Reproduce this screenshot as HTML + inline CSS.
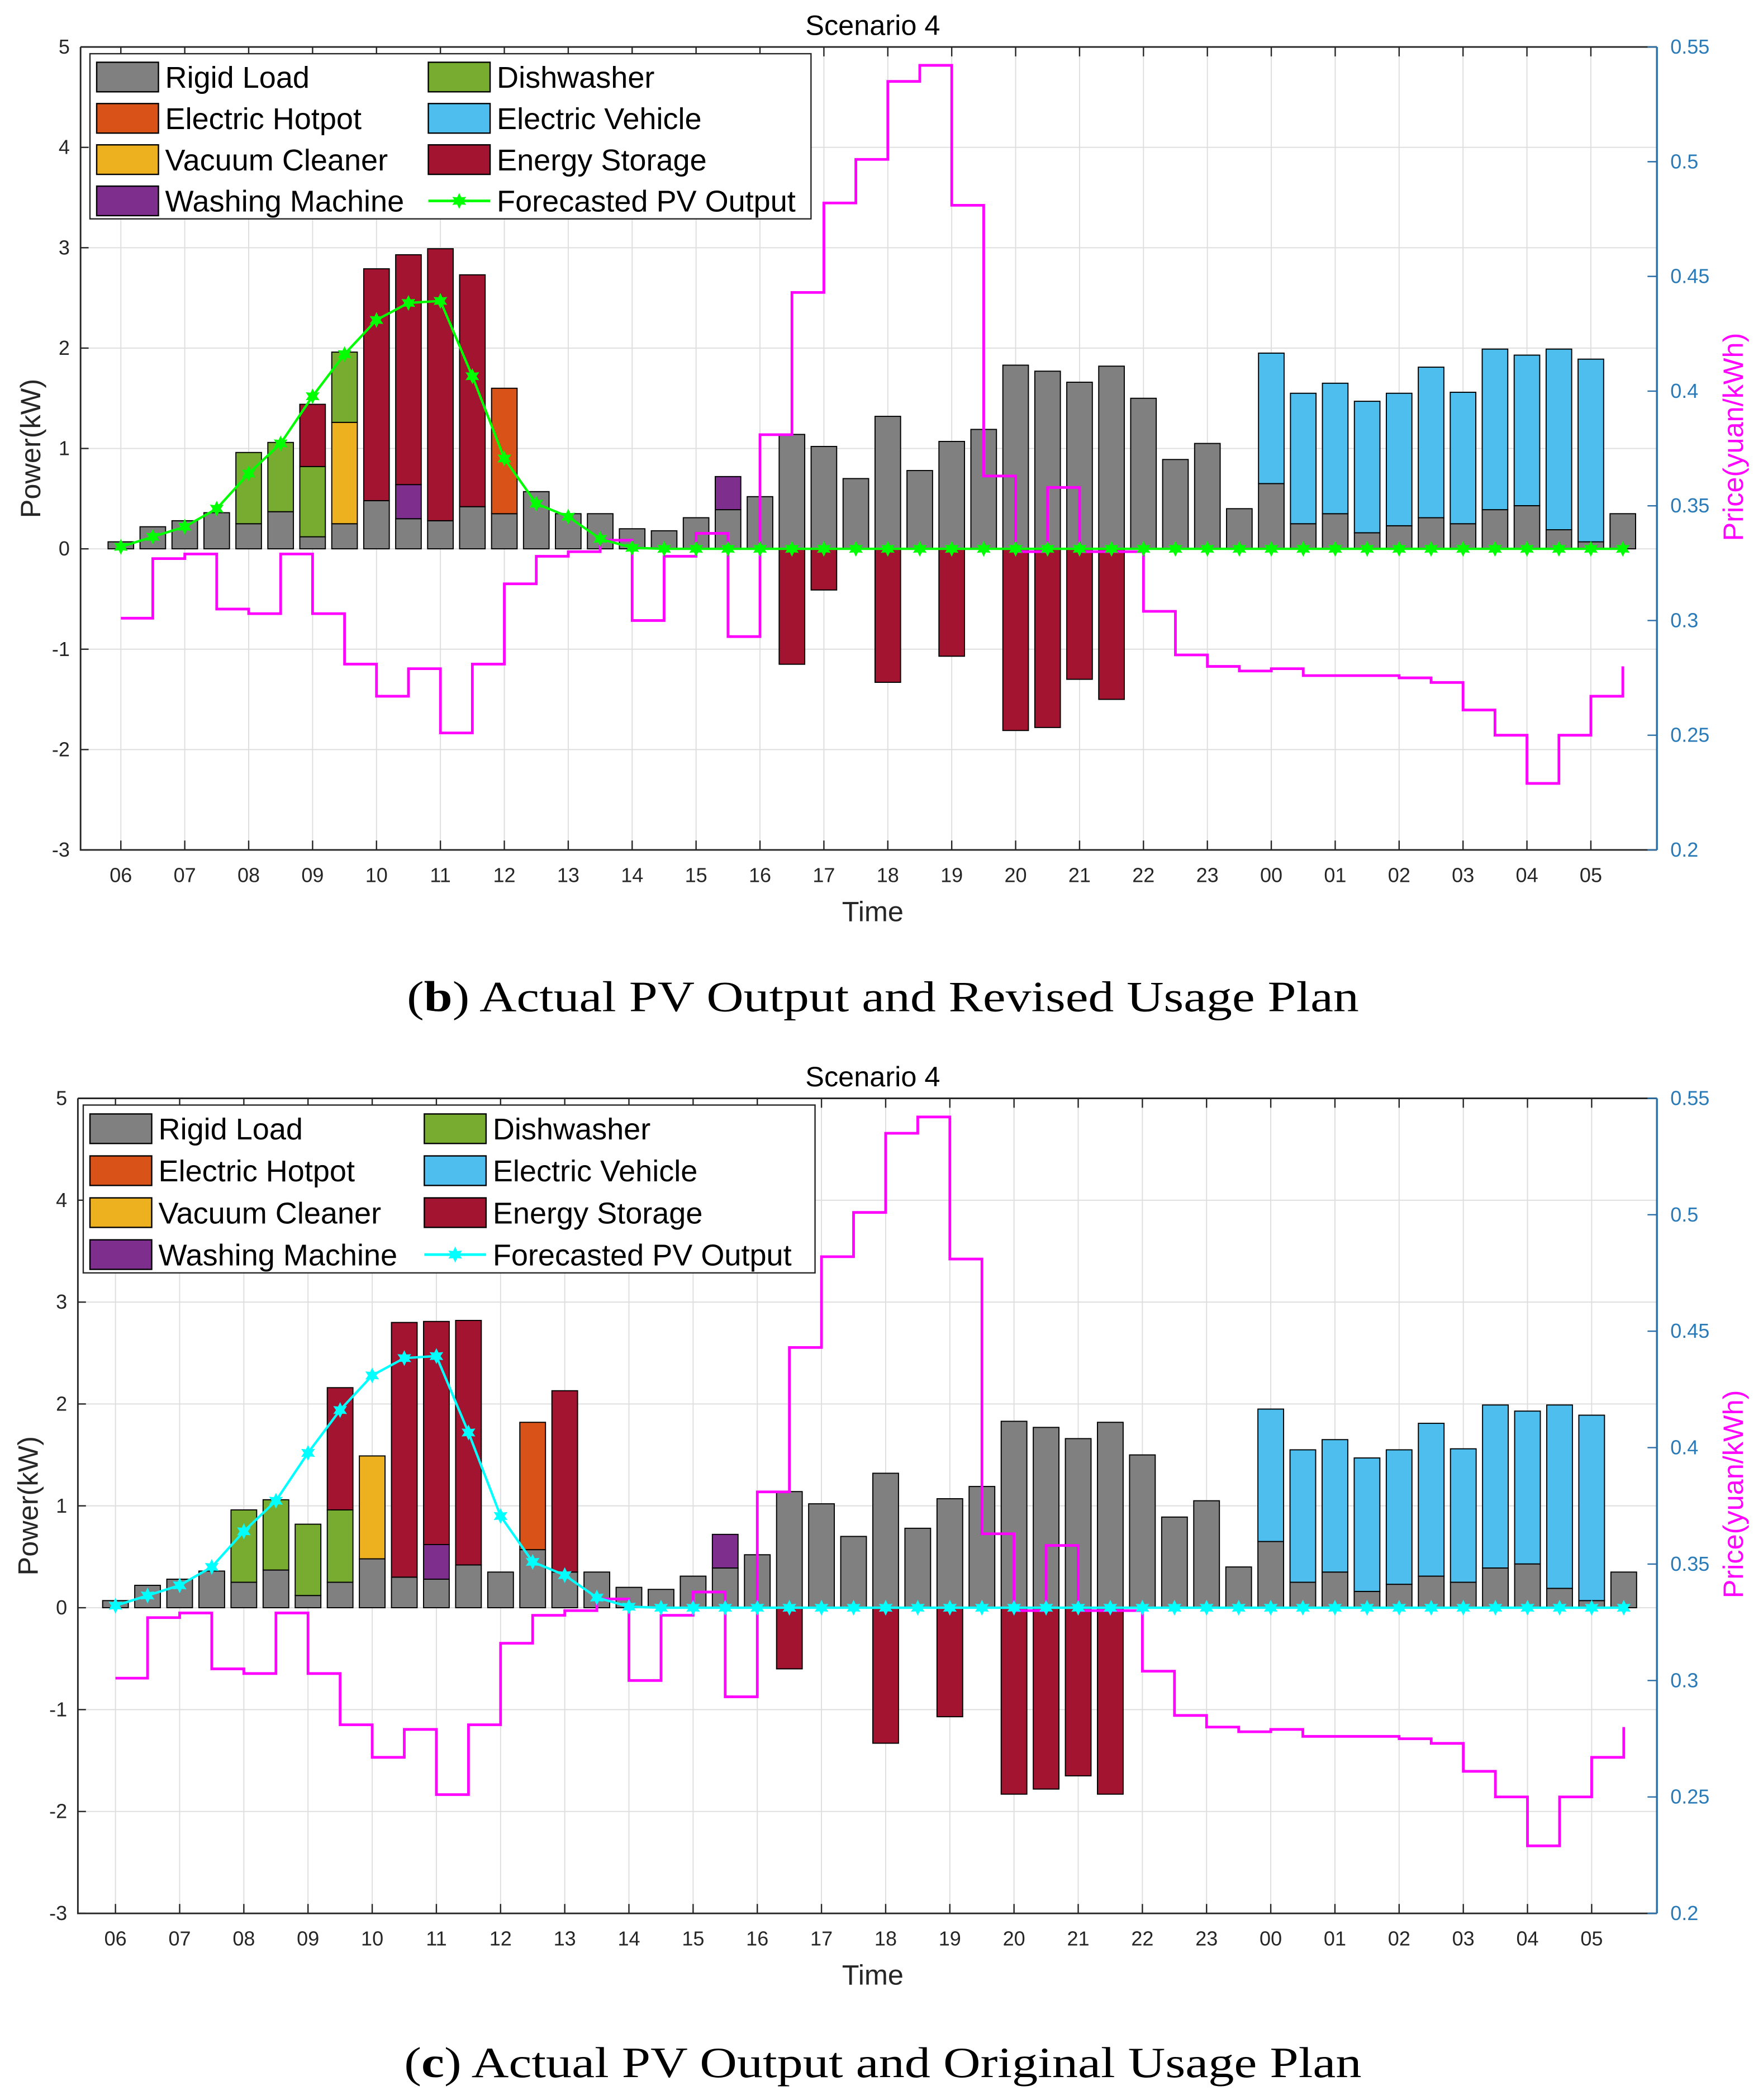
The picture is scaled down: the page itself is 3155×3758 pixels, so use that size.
<!DOCTYPE html>
<html><head><meta charset="utf-8"><style>
html,body{margin:0;padding:0;background:#fff;}
svg{display:block;}
text{font-family:"Liberation Sans",sans-serif;}
</style></head><body>
<svg id="fig" xmlns="http://www.w3.org/2000/svg" width="3155" height="3758" viewBox="0 0 1313 1564" preserveAspectRatio="none">
<rect x="0" y="0" width="1313" height="1564" fill="#fff"/>
<g id="chartB"></g>
<g id="chartC"></g>
<text x="303" y="753" font-size="32" textLength="709" lengthAdjust="spacingAndGlyphs" style="font-family:'Liberation Serif',serif">(<tspan font-weight="bold">b</tspan>) Actual PV Output and Revised Usage Plan</text>
<text x="301" y="1547" font-size="32" textLength="713" lengthAdjust="spacingAndGlyphs" style="font-family:'Liberation Serif',serif">(<tspan font-weight="bold">c</tspan>) Actual PV Output and Original Usage Plan</text>
</svg>
<script>
const hourLabels = ["06","07","08","09","10","11","12","13","14","15","16","17","18","19","20","21","22","23","00","01","02","03","04","05"];
const leftTicks = [-3,-2,-1,0,1,2,3,4,5];
const rightTicks = [0.2,0.25,0.3,0.35,0.4,0.45,0.5,0.55];
const rightTickLabels = ["0.2","0.25","0.3","0.35","0.4","0.45","0.5","0.55"];
const seriesNames = ["Rigid Load","Dishwasher","Electric Hotpot","Electric Vehicle","Vacuum Cleaner","Energy Storage","Washing Machine","Forecasted PV Output"];

// 48 half-hour slots starting 06:00
const rigidLoad = [0.07,0.22,0.28,0.36,0.25,0.37,0.12,0.25,0.48,0.3,0.28,0.42,0.35,0.57,0.35,0.35,0.2,0.18,0.31,0.39,0.52,1.14,1.02,0.7,1.32,0.78,1.07,1.19,1.83,1.77,1.66,1.82,1.5,0.89,1.05,0.4,0.65,0.25,0.35,0.16,0.23,0.31,0.25,0.39,0.43,0.19,0.07,0.35];
const evLoad = [0,0,0,0,0,0,0,0,0,0,0,0,0,0,0,0,0,0,0,0,0,0,0,0,0,0,0,0,0,0,0,0,0,0,0,0,1.3,1.3,1.3,1.31,1.32,1.5,1.31,1.6,1.5,1.8,1.82,0];
const price = [0.301,0.327,0.329,0.305,0.303,0.329,0.303,0.281,0.267,0.279,0.251,0.281,0.316,0.328,0.330,0.335,0.300,0.328,0.338,0.293,0.381,0.443,0.482,0.501,0.535,0.542,0.481,0.363,0.330,0.358,0.330,0.330,0.304,0.285,0.280,0.278,0.279,0.276,0.276,0.276,0.275,0.273,0.261,0.250,0.229,0.250,0.267,0.280];
const pvOutput = [0.02,0.12,0.22,0.4,0.75,1.05,1.52,1.94,2.28,2.45,2.47,1.72,0.9,0.45,0.32,0.1,0.01,0,0,0,0,0,0,0,0,0,0,0,0,0,0,0,0,0,0,0,0,0,0,0,0,0,0,0,0,0,0,0];

// Revised plan (b)
const dishB   = [0,0,0,0,0.71,0.69,0.7,0.7,0,0,0,0,0,0,0,0,0,0,0,0,0,0,0,0,0,0,0,0,0,0,0,0,0,0,0,0,0,0,0,0,0,0,0,0,0,0,0,0];
const hotpotB = [0,0,0,0,0,0,0,0,0,0,0,0,1.25,0,0,0,0,0,0,0,0,0,0,0,0,0,0,0,0,0,0,0,0,0,0,0,0,0,0,0,0,0,0,0,0,0,0,0];
const vacuumB = [0,0,0,0,0,0,0,1.01,0,0,0,0,0,0,0,0,0,0,0,0,0,0,0,0,0,0,0,0,0,0,0,0,0,0,0,0,0,0,0,0,0,0,0,0,0,0,0,0];
const washB   = [0,0,0,0,0,0,0,0,0,0.34,0,0,0,0,0,0,0,0,0,0.33,0,0,0,0,0,0,0,0,0,0,0,0,0,0,0,0,0,0,0,0,0,0,0,0,0,0,0,0];
const storeB  = [0,0,0,0,0,0,0.62,0,2.31,2.29,2.71,2.31,0,0,0,0,0,0,0,0,0,-1.15,-0.41,0,-1.33,0,-1.07,0,-1.81,-1.78,-1.3,-1.5,0,0,0,0,0,0,0,0,0,0,0,0,0,0,0,0];
// Original plan (c)
const dishC   = [0,0,0,0,0.71,0.69,0.7,0.71,0,0,0,0,0,0,0,0,0,0,0,0,0,0,0,0,0,0,0,0,0,0,0,0,0,0,0,0,0,0,0,0,0,0,0,0,0,0,0,0];
const hotpotC = [0,0,0,0,0,0,0,0,0,0,0,0,0,1.25,0,0,0,0,0,0,0,0,0,0,0,0,0,0,0,0,0,0,0,0,0,0,0,0,0,0,0,0,0,0,0,0,0,0];
const vacuumC = [0,0,0,0,0,0,0,0,1.01,0,0,0,0,0,0,0,0,0,0,0,0,0,0,0,0,0,0,0,0,0,0,0,0,0,0,0,0,0,0,0,0,0,0,0,0,0,0,0];
const washC   = [0,0,0,0,0,0,0,0,0,0,0.34,0,0,0,0,0,0,0,0,0.33,0,0,0,0,0,0,0,0,0,0,0,0,0,0,0,0,0,0,0,0,0,0,0,0,0,0,0,0];
const storeC  = [0,0,0,0,0,0,0,1.2,0,2.5,2.19,2.4,0,0,1.78,0,0,0,0,0,0,-0.6,0,0,-1.33,0,-1.07,0,-1.83,-1.78,-1.65,-1.83,0,0,0,0,0,0,0,0,0,0,0,0,0,0,0,0];

const COL = {gray:"#808080",dish:"#77ac30",hot:"#d95319",vac:"#edb120",ev:"#4dbeee",store:"#a2142f",wash:"#7e2f8e"};
const NS = "http://www.w3.org/2000/svg";
function mk(parent, tag, attrs){const e=document.createElementNS(NS,tag);for(const k in attrs)e.setAttribute(k,attrs[k]);parent.appendChild(e);return e;}

function drawChart(g, cfg){
  const {top,bottom,left,right,x06,hr,pvColor,d,leg,titleY} = cfg;
  const yL = v => top + (5 - v) * (bottom - top) / 8;
  const yR = v => top + (0.55 - v) * (bottom - top) / 0.35;
  const xS = i => x06 + i * hr / 2;
  leftTicks.forEach(v=>{const l=mk(g,"line",{x1:left,x2:right,y1:yL(v),y2:yL(v),stroke:"#dedede","stroke-width":0.8});
    
    });
  hourLabels.forEach((h,i)=>{const l=mk(g,"line",{x1:xS(2*i),x2:xS(2*i),y1:top,y2:bottom,stroke:"#dedede","stroke-width":0.8});
    
    });
  const bw = hr/2*0.8;
  for(let i=0;i<48;i++){
    const x = xS(i)-bw/2;
    const segs = [[rigidLoad[i],COL.gray,'rigid-load'],[d.hot[i],COL.hot,'electric-hotpot'],[d.vac[i],COL.vac,'vacuum-cleaner'],[d.wash[i],COL.wash,'washing-machine'],[d.dish[i],COL.dish,'dishwasher'],[evLoad[i],COL.ev,'electric-vehicle'],[Math.max(d.store[i],0),COL.store,'energy-storage']];
    let base=0;
    segs.forEach(s=>{ if(s[0]>0){
      const r=mk(g,"rect",{x:x,width:bw,y:yL(base+s[0]),height:yL(base)-yL(base+s[0]),fill:s[1],stroke:"#000","stroke-width":0.8});
      
      
      base+=s[0];}});
    if(d.store[i]<0){
      const r=mk(g,"rect",{x:x,width:bw,y:yL(0),height:yL(d.store[i])-yL(0),fill:COL.store,stroke:"#000","stroke-width":0.8});
      
      
    }
  }
  let p="";
  for(let i=0;i<48;i++){ p += (i===0?"M":"L")+xS(i)+","+yR(price[i]); if(i<47) p+="L"+xS(i+1)+","+yR(price[i]); }
  const pl=mk(g,"path",{d:p,fill:"none",stroke:"#ff00ff","stroke-width":2});
  
  
  const pts = pvOutput.map((v,i)=>xS(i)+","+yL(v)).join(" ");
  const pv=mk(g,"polyline",{points:pts,fill:"none",stroke:pvColor,"stroke-width":1.8});
  
  
  pvOutput.forEach((v,i)=>{star(g,xS(i),yL(v),pvColor,'pv-marker');});
  const ax=mk(g,"path",{d:`M${left},${top}L${left},${bottom}L${right},${bottom}M${left},${top}L${right},${top}`,fill:"none",stroke:"#262626","stroke-width":1.2});
  
  
  const ra=mk(g,"line",{x1:right,x2:right,y1:top,y2:bottom,stroke:"#2a6fa8","stroke-width":1.4});
  
  
  leftTicks.forEach(v=>{
    mk(g,"line",{x1:left,x2:left+6,y1:yL(v),y2:yL(v),stroke:"#262626","stroke-width":1});
    const t=mk(g,"text",{x:left-8,y:yL(v)+5,"text-anchor":"end","font-size":15,fill:"#262626"});t.textContent=v;
    
    });
  rightTicks.forEach((v,k)=>{
    mk(g,"line",{x1:right-7,x2:right,y1:yR(v),y2:yR(v),stroke:"#2a6fa8","stroke-width":1});
    const t=mk(g,"text",{x:right+10,y:yR(v)+5,"font-size":15,fill:"#2a7ab8"});t.textContent=rightTickLabels[k];
    
    });
  hourLabels.forEach((h,i)=>{
    mk(g,"line",{x1:xS(2*i),x2:xS(2*i),y1:bottom,y2:bottom-7,stroke:"#262626","stroke-width":1});
    mk(g,"line",{x1:xS(2*i),x2:xS(2*i),y1:top,y2:top+7,stroke:"#262626","stroke-width":1});
    const t=mk(g,"text",{x:xS(2*i),y:bottom+24,"text-anchor":"middle","font-size":15,fill:"#262626"});t.textContent=h;
    
    });
  let t=mk(g,"text",{x:650,y:titleY,"text-anchor":"middle","font-size":21,fill:"#000"});t.textContent="Scenario 4";
  
  
  t=mk(g,"text",{x:650,y:bottom+53,"text-anchor":"middle","font-size":21,fill:"#262626"});t.textContent="Time";
  
  
  t=mk(g,"text",{x:0,y:0,"text-anchor":"middle","font-size":21,fill:"#262626",transform:`translate(${left-30},${yL(1)}) rotate(-90)`});t.textContent="Power(kW)";
  
  
  t=mk(g,"text",{x:0,y:0,"text-anchor":"middle","font-size":21,fill:"#ff00ff",transform:`translate(${right+64},${yR(0.38)}) rotate(-90)`});t.textContent="Price(yuan/kWh)";
  
  
  const L=mk(g,"g",{});
  
  
  mk(L,"rect",{x:leg.x,y:leg.y,width:leg.w,height:leg.h,fill:"#fff",stroke:"#262626","stroke-width":1});
  const rowH = leg.h/4;
  const entries=[[seriesNames[0],COL.gray],[seriesNames[2],COL.hot],[seriesNames[4],COL.vac],[seriesNames[6],COL.wash],[seriesNames[1],COL.dish],[seriesNames[3],COL.ev],[seriesNames[5],COL.store],[seriesNames[7],null]];
  entries.forEach((e,k)=>{
    const col=k<4?0:1, row=k%4;
    const px = leg.x + (col===0?5:leg.c2);
    const cy = leg.y + rowH*row + rowH/2 + 2;
    const eg=mk(L,"g",{});
    
    
    if(e[1]) mk(eg,"rect",{x:px,y:cy-11,width:46,height:22,fill:e[1],stroke:"#000","stroke-width":1});
    else { mk(eg,"line",{x1:px,x2:px+46,y1:cy,y2:cy,stroke:pvColor,"stroke-width":2}); star(eg,px+23,cy,pvColor,'legend-marker'); }
    const tt=mk(eg,"text",{x:px+51,y:cy+8,"font-size":22.5,fill:"#000"});tt.textContent=e[0];
  });
}
function star(g,cx,cy,c,name){
  const r=5,r2=2.6;let d="";
  for(let k=0;k<12;k++){const a=Math.PI/6*k-Math.PI/2;const rr=k%2?r2:r;d+=(k?"L":"M")+(cx+rr*Math.cos(a)).toFixed(2)+","+(cy+rr*Math.sin(a)).toFixed(2);}
  const s=mk(g,"path",{d:d+"Z",fill:c,stroke:c,"stroke-width":0.8});
  
  
}
drawChart(document.getElementById("chartB"),{top:35,bottom:633,left:60,right:1234,x06:90,hr:47.6,pvColor:"#00ff00",titleY:26,
  d:{dish:dishB,hot:hotpotB,vac:vacuumB,wash:washB,store:storeB},leg:{x:67,y:40,w:537,h:123,c2:252}});
drawChart(document.getElementById("chartC"),{top:818,bottom:1425,left:58,right:1234,x06:86,hr:47.8,pvColor:"#00ffff",titleY:809,
  d:{dish:dishC,hot:hotpotC,vac:vacuumC,wash:washC,store:storeC},leg:{x:62,y:823,w:545,h:125,c2:254}});
</script>
</body></html>
